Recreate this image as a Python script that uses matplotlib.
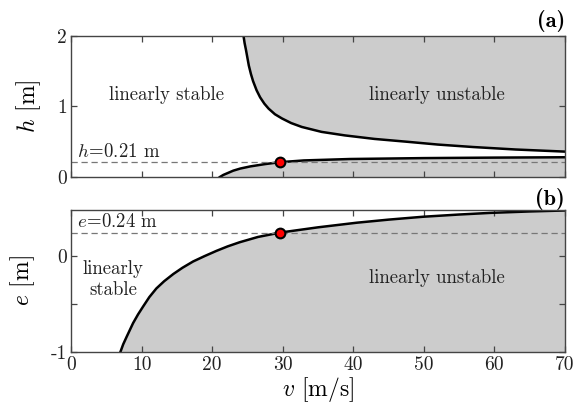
import matplotlib
matplotlib.use("Agg")
import matplotlib.pyplot as plt

# ---- data ----
v_upper = [24.45, 24.6, 24.8, 25.0, 25.2, 25.5, 25.8, 26.3, 26.8, 27.4, 28.0, 28.9, 29.9, 31.2, 32.7,
           35.5, 38.8, 43.0, 47.6, 52.0, 57.0, 63.0, 70.0]
h_upper = [2.0, 1.90, 1.80, 1.69, 1.58, 1.46, 1.36, 1.23, 1.13, 1.04, 0.97, 0.89, 0.83, 0.765, 0.71,
           0.64, 0.59, 0.54, 0.50, 0.46, 0.425, 0.39, 0.36]

v_lower = [21.1, 21.6, 22.3, 23.0, 24.0, 25.4, 27.5, 29.6, 33.0, 39.5, 50.0, 60.0, 70.0]
h_lower = [0.0, 0.03, 0.06, 0.09, 0.12, 0.15, 0.183, 0.21, 0.235, 0.255, 0.268, 0.275, 0.28]

v_e = [7.0, 7.4, 7.9, 8.8, 9.5, 10.2, 11.1, 12.1, 13.2, 14.5, 15.8, 17.3, 18.9, 20.6, 22.2, 23.9, 26.5, 29.6,
       35.0, 40.5, 45.0, 49.9, 55.0, 59.4, 65.0, 70.0]
e_curve = [-1.0, -0.92, -0.84, -0.70, -0.61, -0.53, -0.43, -0.34, -0.265, -0.19, -0.125, -0.06, -0.005, 0.05, 0.097,
           0.14, 0.195, 0.24, 0.295, 0.343, 0.375, 0.405, 0.428, 0.445, 0.46, 0.47]

v_crit = 29.6
h_crit = 0.21
e_crit = 0.24

x_ticks = [0, 10, 20, 30, 40, 50, 60, 70]
h_ticks = [0, 1, 2]
e_ticks = [-1, -0.5, 0]
e_ticklabels = ['-1', '', '0']

plt.rcParams['font.family'] = 'cmr10'
plt.rcParams['mathtext.fontset'] = 'cm'
plt.rcParams['axes.formatter.use_mathtext'] = True

fill_c = '#cccccc'
spine_c = '#444444'
txt_c = '#222222'

fig = plt.figure(figsize=(5.79, 4.03), dpi=100)
ax1 = fig.add_axes([0.1226, 0.5608, 0.8532, 0.3499])
ax2 = fig.add_axes([0.1226, 0.1266, 0.8532, 0.3523])

# top panel
ax1.fill_between(v_upper, h_upper, 2.0, color=fill_c, lw=0)
ax1.fill_between(v_lower, 0.0, h_lower, color=fill_c, lw=0)
ax1.plot(v_upper, h_upper, color='black', lw=1.8, solid_joinstyle='round')
ax1.plot(v_lower, h_lower, color='black', lw=1.8, solid_joinstyle='round')
ax1.axhline(h_crit, color='#777777', lw=0.9, ls=(0, (5, 3)))
ax1.plot([v_crit], [h_crit], 'o', ms=7, mfc='red', mec='black', mew=1.5, zorder=5)
ax1.set_xlim(0, 70)
ax1.set_ylim(0, 2)
ax1.set_xticks(x_ticks)
ax1.set_xticklabels([])
ax1.set_yticks(h_ticks)
ax1.set_yticklabels([str(t) for t in h_ticks])
ax1.set_ylabel(r'$h$ [m]', fontsize=17, labelpad=10)
ax1.text(13.6, 1.16, 'linearly stable', fontsize=13.5, ha='center', va='center', color=txt_c)
ax1.text(51.8, 1.16, 'linearly unstable', fontsize=13.5, ha='center', va='center', color=txt_c)
ax1.text(0.9, 0.23, r'$h\!=\!0.21$ m', fontsize=13.5, ha='left', va='bottom', color=txt_c)
ax1.text(1.0, 1.025, '(a)', transform=ax1.transAxes, fontsize=16, ha='right', va='bottom', family='cmb10')

# bottom panel
ax2.fill_between(v_e, -1.0, e_curve, color=fill_c, lw=0)
ax2.plot(v_e, e_curve, color='black', lw=1.8, solid_joinstyle='round')
ax2.axhline(e_crit, color='#777777', lw=0.9, ls=(0, (5, 3)))
ax2.plot([v_crit], [e_crit], 'o', ms=7, mfc='red', mec='black', mew=1.5, zorder=5)
ax2.set_xlim(0, 70)
ax2.set_ylim(-1, 0.475)
ax2.set_xticks(x_ticks)
ax2.set_xticklabels([str(t) for t in x_ticks])
ax2.set_yticks(e_ticks)
ax2.set_yticklabels(e_ticklabels)
ax2.set_ylabel(r'$e$ [m]', fontsize=17, labelpad=10)
ax2.set_xlabel(r'$v$ [m/s]', fontsize=17, labelpad=1)
ax2.text(6.0, -0.25, 'linearly\nstable', fontsize=13.5, ha='center', va='center', color=txt_c, linespacing=1.25)
ax2.text(51.8, -0.23, 'linearly unstable', fontsize=13.5, ha='center', va='center', color=txt_c)
ax2.text(0.9, 0.26, r'$e\!=\!0.24$ m', fontsize=13.5, ha='left', va='bottom', color=txt_c)
ax2.text(1.0, 1.0, '(b)', transform=ax2.transAxes, fontsize=16, ha='right', va='bottom', family='cmb10')

for ax in (ax1, ax2):
    for s in ax.spines.values():
        s.set_color(spine_c)
        s.set_linewidth(1.0)
    ax.tick_params(direction='in', top=True, right=True, length=4, width=0.9,
                   color=spine_c, labelsize=14, labelcolor=txt_c, pad=3)

fig.savefig('out.png', dpi=100)
